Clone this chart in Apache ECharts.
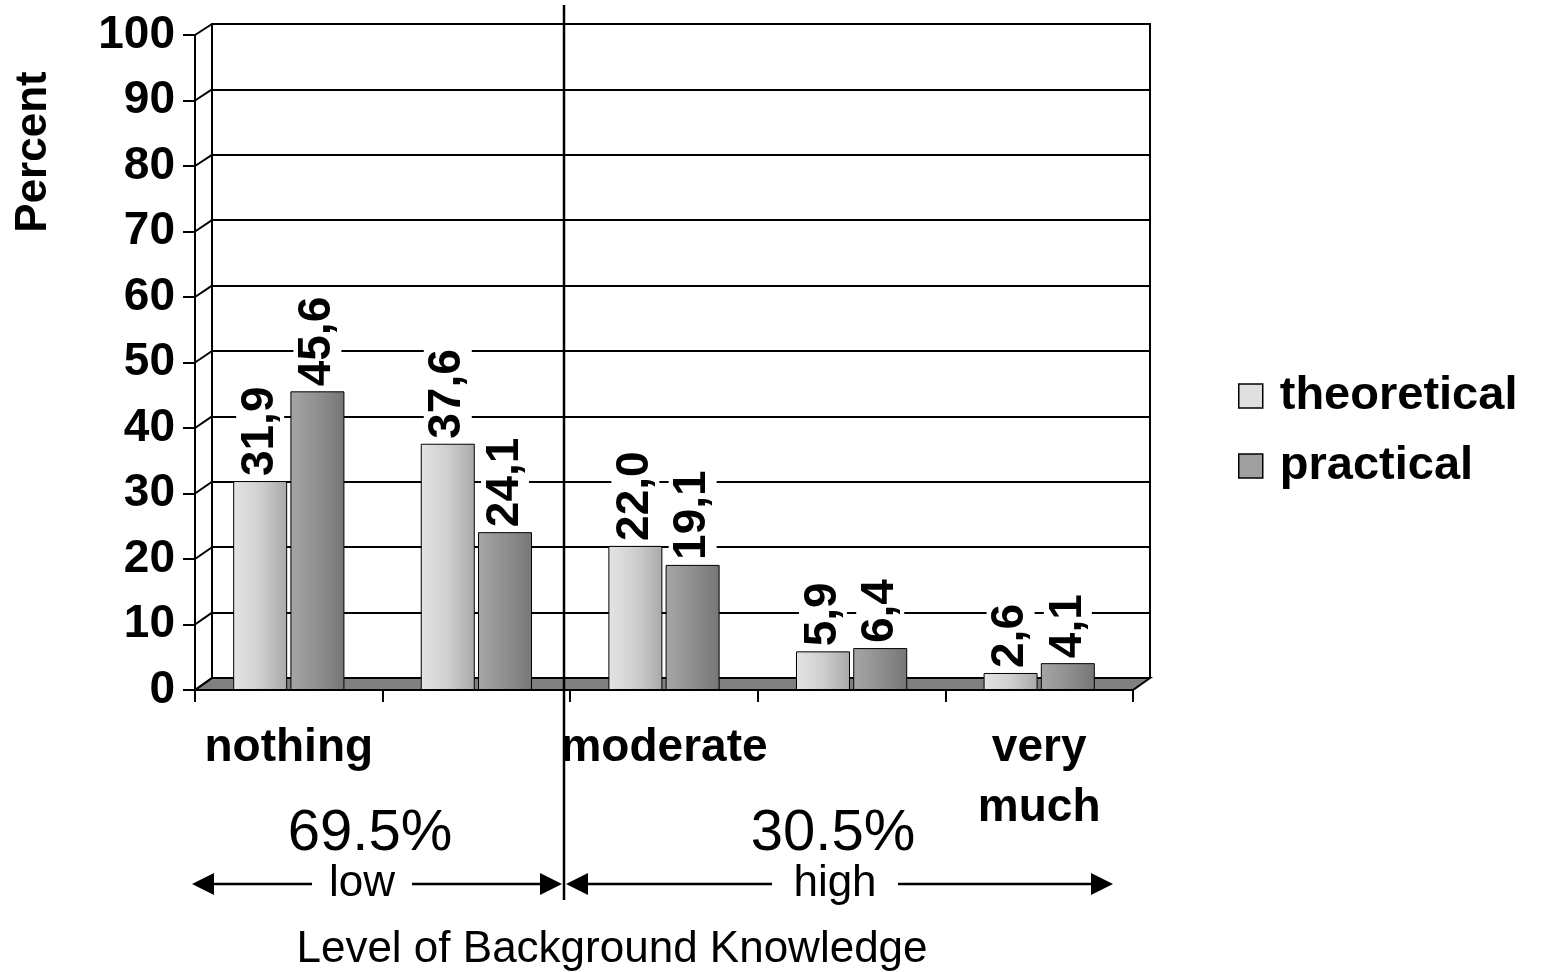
<!DOCTYPE html>
<html>
<head>
<meta charset="utf-8">
<script src="https://cdn.jsdelivr.net/npm/echarts@6/dist/echarts.min.js"></script>
<style>
  html, body { margin: 0; padding: 0; background: #fff; }
  #chart { width: 1554px; height: 972px; }
</style>
</head>
<body>
<div id="chart"></div>
<script>
// data
const categories = ['nothing', '', 'moderate', '', 'very\nmuch'];
const theoretical = [31.9, 37.6, 22.0, 5.9, 2.6];
const practical = [45.6, 24.1, 19.1, 6.4, 4.1];
const seriesNames = ['theoretical', 'practical'];
const yMin = 0, yMax = 100, yStep = 10;
const groupShares = ['69.5%', '30.5%'];
const groupNames = ['low', 'high'];

const FONT = '"Liberation Sans", Arial, sans-serif';

// back wall and front plane (pseudo 3D offset)
const back = { left: 212, top: 24, width: 938, height: 654 };
const front = { left: 195, top: 35, width: 938, height: 655 };

const chart = echarts.init(document.getElementById('chart'));

const fmt = p => p.value.toFixed(1).replace('.', ',');

const barLabel = {
  show: true,
  position: 'top',
  rotate: 90,
  align: 'left',
  verticalAlign: 'middle',
  distance: 1,
  formatter: fmt,
  color: '#000',
  fontFamily: FONT,
  fontWeight: 'bold',
  fontSize: 46,
  backgroundColor: '#fff',
  padding: [2, 4, 0, 4]
};

const lightFill = new echarts.graphic.LinearGradient(0, 0, 1, 0, [
  { offset: 0, color: '#e4e4e4' },
  { offset: 0.5, color: '#cfcfcf' },
  { offset: 1, color: '#a9a9a9' }
]);
const darkFill = new echarts.graphic.LinearGradient(0, 0, 1, 0, [
  { offset: 0, color: '#a6a6a6' },
  { offset: 0.5, color: '#8f8f8f' },
  { offset: 1, color: '#767676' }
]);

const option = {
  backgroundColor: '#fff',
  animation: false,
  textStyle: { fontFamily: FONT },
  legend: {
    orient: 'vertical',
    left: 1233,
    top: 366,
    itemWidth: 24,
    itemHeight: 24,
    itemGap: 20,
    icon: 'rect',
    textStyle: {
      fontFamily: FONT, fontWeight: 'bold', fontSize: 47, color: '#000',
      lineHeight: 50, padding: [0, 0, 0, 12]
    },
    data: [
      { name: seriesNames[0], itemStyle: { color: '#e0e0e0', borderColor: '#000', borderWidth: 1.5 } },
      { name: seriesNames[1], itemStyle: { color: '#a0a0a0', borderColor: '#000', borderWidth: 1.5 } }
    ]
  },
  grid: [
    { ...back, show: true, borderColor: '#000', borderWidth: 2, backgroundColor: 'transparent' },
    { ...front }
  ],
  xAxis: [
    { gridIndex: 0, type: 'category', data: categories, show: false },
    {
      gridIndex: 1,
      type: 'category',
      data: categories,
      axisLine: { lineStyle: { color: '#000', width: 2 } },
      axisTick: { show: true, length: 12, lineStyle: { color: '#000', width: 2 } },
      axisLabel: {
        interval: 0,
        margin: 28,
        color: '#000',
        fontFamily: FONT,
        fontWeight: 'bold',
        fontSize: 46,
        lineHeight: 60
      }
    }
  ],
  yAxis: [
    {
      gridIndex: 0,
      type: 'value',
      min: yMin, max: yMax, interval: yStep,
      axisLine: { show: true, lineStyle: { color: '#000', width: 2 } },
      axisTick: { show: false },
      axisLabel: { show: false },
      splitLine: { lineStyle: { color: '#000', width: 2 } }
    },
    {
      gridIndex: 1,
      type: 'value',
      min: yMin, max: yMax, interval: yStep,
      axisLine: { show: true, lineStyle: { color: '#000', width: 2 } },
      axisTick: { show: true, length: 12, lineStyle: { color: '#000', width: 2 } },
      axisLabel: {
        margin: 20,
        color: '#000',
        fontFamily: FONT,
        fontWeight: 'bold',
        fontSize: 46
      },
      splitLine: { show: false }
    }
  ],
  series: [
    {
      name: seriesNames[0],
      type: 'bar',
      xAxisIndex: 1,
      yAxisIndex: 1,
      data: theoretical,
      barWidth: 54,
      barGap: '6%',
      itemStyle: { color: lightFill, borderColor: '#000', borderWidth: 1 },
      label: barLabel,
      z: 3
    },
    {
      name: seriesNames[1],
      type: 'bar',
      xAxisIndex: 1,
      yAxisIndex: 1,
      data: practical,
      barWidth: 54,
      itemStyle: { color: darkFill, borderColor: '#000', borderWidth: 1 },
      label: barLabel,
      z: 3
    }
  ]
};

chart.setOption(option);

// 3D decoration: floor, wall diagonals, annotations
function decorate() {
  const g = [];
  const fy0 = chart.convertToPixel({ yAxisIndex: 1 }, yMin);
  const by0 = chart.convertToPixel({ yAxisIndex: 0 }, yMin);
  const fRight = front.left + front.width;
  const bRight = back.left + back.width;

  // floor
  g.push({
    type: 'polygon', z: 1,
    shape: { points: [[front.left, fy0], [fRight, fy0], [bRight, by0], [back.left, by0]] },
    style: { fill: '#808080', stroke: '#000', lineWidth: 2 }
  });

  // diagonals linking front ticks to back gridlines
  for (let v = yMin; v <= yMax; v += yStep) {
    const yf = chart.convertToPixel({ yAxisIndex: 1 }, v);
    const yb = chart.convertToPixel({ yAxisIndex: 0 }, v);
    g.push({
      type: 'line', z: 2,
      shape: { x1: front.left, y1: yf, x2: back.left, y2: yb },
      style: { stroke: '#000', lineWidth: 2 }
    });
  }

  // divider between low and high
  const divX = 564;
  g.push({ type: 'line', z: 5, shape: { x1: divX, y1: 5, x2: divX, y2: 900 }, style: { stroke: '#000', lineWidth: 2.5 } });

  // axis title
  g.push({
    type: 'text', z: 5, x: 34, y: 152, rotation: Math.PI / 2,
    style: { text: 'Percent', font: 'bold 44px ' + FONT, fill: '#000', align: 'center', verticalAlign: 'middle' }
  });

  // group shares
  const shareX = [370, 833];
  shareX.forEach((x, i) => g.push({
    type: 'text', z: 5, x: x, y: 834,
    style: { text: groupShares[i], font: '58px ' + FONT, fill: '#000', align: 'center', verticalAlign: 'middle' }
  }));

  // arrows
  const arrowY = 884;
  const arrows = [
    { from: 192, to: 562, label: groupNames[0], lx: 362, gap: [312, 412] },
    { from: 566, to: 1113, label: groupNames[1], lx: 835, gap: [772, 898] }
  ];
  arrows.forEach(a => {
    g.push({ type: 'line', z: 5, shape: { x1: a.from + 18, y1: arrowY, x2: a.gap[0], y2: arrowY }, style: { stroke: '#000', lineWidth: 2.5 } });
    g.push({ type: 'line', z: 5, shape: { x1: a.gap[1], y1: arrowY, x2: a.to - 18, y2: arrowY }, style: { stroke: '#000', lineWidth: 2.5 } });
    g.push({ type: 'polygon', z: 5, shape: { points: [[a.from, arrowY], [a.from + 22, arrowY - 11], [a.from + 22, arrowY + 11]] }, style: { fill: '#000' } });
    g.push({ type: 'polygon', z: 5, shape: { points: [[a.to, arrowY], [a.to - 22, arrowY - 11], [a.to - 22, arrowY + 11]] }, style: { fill: '#000' } });
    g.push({
      type: 'text', z: 5, x: a.lx, y: arrowY,
      style: { text: a.label, font: '44px ' + FONT, fill: '#000', align: 'center', verticalAlign: 'middle' }
    });
  });

  g.push({
    type: 'text', z: 5, x: 612, y: 950,
    style: { text: 'Level of Background Knowledge', font: '44px ' + FONT, fill: '#000', align: 'center', verticalAlign: 'middle' }
  });

  chart.setOption({ graphic: g });
}
decorate();
</script>
</body>
</html>
